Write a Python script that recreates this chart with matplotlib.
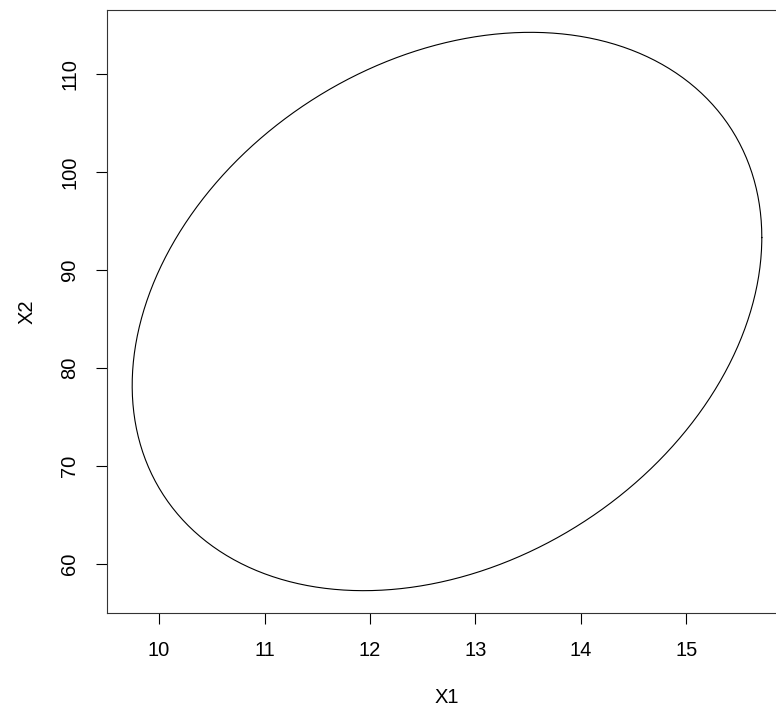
import numpy as np
import matplotlib
matplotlib.use('Agg')
import matplotlib.pyplot as plt

# ellipse parameters
center = [12.73, 85.79]
sd = [2.985, 28.51]
rho = 0.265

xticks = [10, 11, 12, 13, 14, 15]
yticks = [60, 70, 80, 90, 100, 110]

plt.rcParams['font.family'] = ['Liberation Sans', 'DejaVu Sans']

# ellipse points, the way R's ellipse() builds them
t = np.linspace(0, 2 * np.pi, 400)
x = center[0] + sd[0] * np.cos(t)
y = center[1] + sd[1] * (rho * np.cos(t) + np.sqrt(1 - rho ** 2) * np.sin(t))

fig = plt.figure(figsize=(7.76, 7.13), dpi=100)
ax = fig.add_axes([107 / 776, 100 / 713, 680 / 776, 603 / 713])
ax.plot(x, y, color='black', lw=0.8)

# R style 4% padding
xr = x.max() - x.min()
yr = y.max() - y.min()
ax.set_xlim(x.min() - 0.04 * xr, x.max() + 0.04 * xr)
ax.set_ylim(y.min() - 0.04 * yr, y.max() + 0.04 * yr)

ax.set_xticks(xticks)
ax.set_yticks(yticks)
ax.set_yticklabels([str(v) for v in yticks], rotation=90, va='center')
ax.tick_params(direction='out', length=8, width=0.8, labelsize=14.5, pad=12)
for s in ax.spines.values():
    s.set_linewidth(0.8)
    s.set_color('#333333')

ax.set_xlabel('X1', fontsize=14.5, labelpad=20)
ax.set_ylabel('X2', fontsize=14.5, labelpad=17)

fig.savefig('out.png', dpi=100)
